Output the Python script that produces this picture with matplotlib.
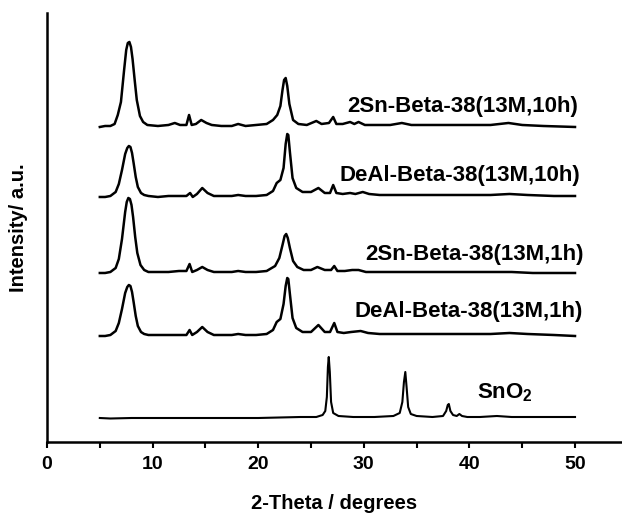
import matplotlib
matplotlib.use('Agg')
import matplotlib.pyplot as plt
from matplotlib.ticker import MultipleLocator

plt.rcParams['font.family'] = ['Liberation Sans', 'DejaVu Sans']
plt.rcParams['font.weight'] = 'bold'
plt.rcParams['axes.labelweight'] = 'bold'
plt.rcParams['mathtext.fontset'] = 'custom'
plt.rcParams['mathtext.rm'] = 'Liberation Sans:bold'
plt.rcParams['mathtext.bf'] = 'Liberation Sans:bold'

# 2Sn-Beta-38(13M,10h)
x1 = [5.0, 5.5, 6.0, 6.4, 6.7, 7.0, 7.3, 7.5, 7.65, 7.8, 7.95, 8.1, 8.3, 8.5, 8.8, 9.1, 9.5,
      10.5, 11.5, 12.1, 12.6, 13.2, 13.45, 13.7, 14.1, 14.6, 15.1, 15.6, 16.5, 17.5, 18.1,
      18.8, 19.8, 20.8, 21.4, 21.8, 22.1, 22.3, 22.45, 22.6, 22.75, 22.95, 23.3, 23.8, 24.6,
      25.5, 26.0, 26.7, 27.1, 27.4, 28.0, 28.7, 29.1, 29.5, 30.1, 31.0, 32.5, 33.6, 34.5,
      36.0, 38.0, 40.0, 42.0, 43.7, 45.0, 47.0, 50.0]
y1 = [315, 316, 316, 318, 327, 340, 372, 392, 399, 400, 395, 383, 362, 342, 326, 320, 317,
      316, 317, 319, 317, 317, 327, 317, 318, 322, 319, 317, 316, 316, 318,
      316, 317, 318, 322, 327, 336, 352, 362, 364, 356, 338, 322, 318, 317,
      321, 318, 319, 325, 318, 318, 320, 318, 320, 317, 317, 317, 319, 317,
      317, 317, 317, 317, 319, 317, 316, 315]

# DeAl-Beta-38(13M,10h)
x2 = [5.0, 5.5, 6.0, 6.5, 6.8, 7.1, 7.4, 7.6, 7.75, 7.9, 8.05, 8.2, 8.4, 8.6, 8.9, 9.2, 9.6,
      10.5, 11.5, 12.5, 13.2, 13.55, 13.8, 14.2, 14.7, 15.2, 15.8, 16.5, 17.5, 18.1, 18.8,
      19.8, 20.8, 21.4, 21.75, 22.1, 22.4, 22.6, 22.75, 22.85, 23.0, 23.25, 23.6, 24.2, 25.0,
      25.7, 26.3, 26.8, 27.1, 27.4, 28.0, 28.7, 29.2, 29.9, 30.5, 31.5, 33.0, 35.0, 38.0,
      40.0, 42.0, 43.8, 45.5, 48.0, 50.0]
y2 = [245, 245, 246, 250, 258, 272, 288, 294, 296, 295, 289, 279, 265, 255, 249, 247, 246,
      245, 246, 246, 246, 249, 245, 248, 254, 249, 246, 246, 246, 247, 246,
      246, 247, 251, 259, 262, 274, 298, 308, 307, 290, 264, 254, 250, 250,
      254, 249, 249, 257, 249, 248, 249, 248, 250, 248, 247, 247, 247, 247,
      247, 247, 248, 247, 246, 246]

# 2Sn-Beta-38(13M,1h)
x3 = [5.0, 5.5, 6.0, 6.5, 6.8, 7.1, 7.4, 7.55, 7.7, 7.85, 8.0, 8.15, 8.35, 8.55, 8.85, 9.2,
      9.6, 10.5, 11.5, 12.5, 13.2, 13.5, 13.75, 14.2, 14.7, 15.2, 15.8, 16.5, 17.5, 18.1,
      18.8, 19.8, 20.8, 21.6, 22.0, 22.3, 22.5, 22.65, 22.8, 23.0, 23.3, 23.7, 24.3, 25.0,
      25.6, 26.3, 26.9, 27.2, 27.5, 28.2, 28.9, 29.5, 30.2, 31.5, 33.0, 35.0, 38.0, 40.0,
      42.0, 44.0, 46.0, 48.0, 50.0]
y3 = [169, 169, 170, 174, 183, 203, 230, 240, 244, 243, 237, 225, 205, 189, 177, 172,
      170, 170, 170, 171, 171, 178, 170, 172, 175, 172, 170, 170, 170, 171,
      170, 170, 171, 176, 184, 197, 206, 208, 204, 194, 181, 175, 172, 172,
      175, 172, 172, 176, 171, 171, 172, 172, 170, 170, 170, 170, 170, 170,
      170, 170, 169, 169, 169]

# DeAl-Beta-38(13M,1h)
x4 = [5.0, 5.5, 6.0, 6.5, 6.8, 7.1, 7.4, 7.6, 7.75, 7.9, 8.05, 8.2, 8.4, 8.6, 8.9, 9.2, 9.6,
      10.5, 11.5, 12.5, 13.2, 13.5, 13.75, 14.2, 14.7, 15.2, 15.8, 16.5, 17.5, 18.1, 18.8,
      19.8, 20.8, 21.4, 21.75, 22.1, 22.4, 22.6, 22.75, 22.85, 23.0, 23.25, 23.6, 24.2, 25.0,
      25.7, 26.3, 26.8, 27.2, 27.5, 28.1, 28.8, 29.7, 30.4, 31.5, 33.0, 35.0, 38.0, 40.0,
      42.0, 43.8, 45.5, 48.0, 50.0]
y4 = [106, 106, 107, 111, 119, 133, 149, 155, 157, 156, 150, 140, 126, 116, 110, 108, 107,
      107, 107, 107, 107, 112, 107, 110, 115, 110, 107, 107, 107, 108, 107,
      107, 108, 112, 120, 123, 138, 156, 164, 163, 148, 124, 114, 110, 110,
      117, 110, 110, 119, 110, 109, 110, 111, 109, 108, 108, 108, 108, 108,
      108, 109, 108, 107, 106]

# SnO2
x5 = [5.0, 6.0, 8.0, 12.0, 16.0, 20.0, 24.0, 25.5, 26.1, 26.35, 26.5, 26.6, 26.68, 26.78,
      26.9, 27.1, 27.6, 29.0, 31.0, 32.8, 33.4, 33.65, 33.8, 33.93, 34.05, 34.2, 34.45,
      35.0, 36.5, 37.5, 37.8, 37.95, 38.05, 38.2, 38.45, 38.8, 39.05, 39.3, 39.8, 41.0,
      42.6, 44.0, 47.0, 50.0]
y5 = [24, 23.5, 24, 24, 24, 24, 25, 25, 27, 31, 45, 75, 85, 70,
      40, 29, 26, 25, 25, 26, 29, 40, 60, 70, 55, 35, 28,
      26, 25, 26, 31, 37, 38, 31, 27, 26, 28, 26, 25, 25,
      26, 25, 25, 25]

fig = plt.figure(figsize=(6.22, 5.13), dpi=100)
ax = fig.add_axes([0.0756, 0.1384, 0.9244, 0.8363])

for xs, ys in [(x1, y1), (x2, y2), (x3, y3), (x4, y4)]:
    ax.plot(xs, ys, color='black', lw=1.8, solid_joinstyle='round')
ax.plot(x5, y5, color='black', lw=1.5, solid_joinstyle='round')

ax.text(50.3, 335, '2Sn-Beta-38(13M,10h)', ha='right', va='center', fontsize=16)
ax.text(50.5, 266, 'DeAl-Beta-38(13M,10h)', ha='right', va='center', fontsize=16)
ax.text(50.85, 187, '2Sn-Beta-38(13M,1h)', ha='right', va='center', fontsize=16)
ax.text(50.75, 130, 'DeAl-Beta-38(13M,1h)', ha='right', va='center', fontsize=16)
ax.text(40.7, 49, r'$\mathbf{SnO_2}$', ha='left', va='center', fontsize=16)

ax.set_xlim(0, 54.45)
ax.set_ylim(0, 429)
ax.xaxis.set_major_locator(MultipleLocator(10))
ax.xaxis.set_minor_locator(MultipleLocator(5))
ax.tick_params(axis='x', which='both', direction='out', length=4, width=1.5,
               labelsize=14, pad=6)
ax.set_yticks([])
for side in ['top', 'right']:
    ax.spines[side].set_visible(False)
for side in ['left', 'bottom']:
    ax.spines[side].set_linewidth(1.8)

ax.set_xlabel('2-Theta / degrees', fontsize=14.5, fontweight='bold', labelpad=15)
ax.set_ylabel('Intensity/ a.u.', fontsize=14.5, fontweight='bold', labelpad=14)

fig.savefig('out.png', dpi=100)
